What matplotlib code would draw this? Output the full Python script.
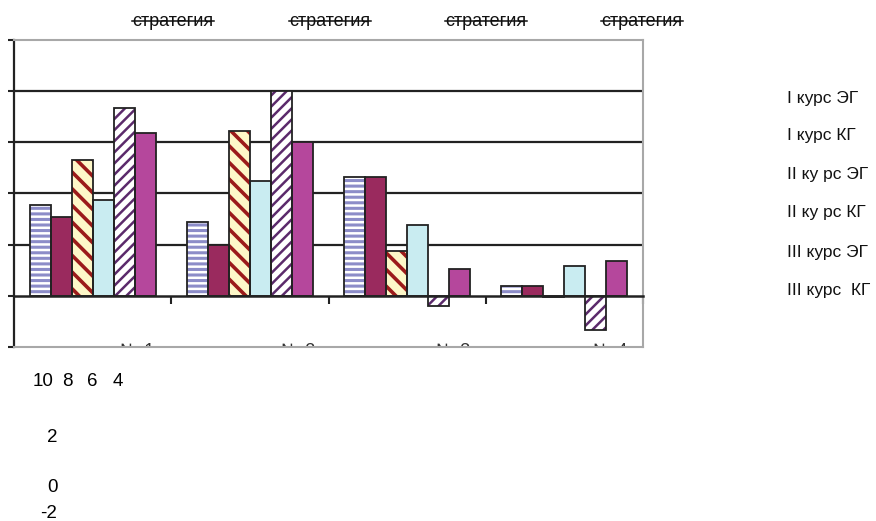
import numpy as np
import matplotlib
matplotlib.use('Agg')
import matplotlib.pyplot as plt
from matplotlib.transforms import Bbox

plt.rcParams['font.family'] = ['Liberation Sans', 'DejaVu Sans']

# data
groups = ['№ 1', '№ 2', '№ 3', '№ 4']
series = ['I курс ЭГ', 'I курс КГ', 'II ку рс ЭГ', 'II ку рс КГ', 'III курс ЭГ', 'III курс  КГ']
values = [
    [3.55, 2.90, 4.65, 0.38],    # I курс ЭГ
    [3.10, 2.00, 4.65, 0.38],    # I курс КГ
    [5.30, 6.45, 1.75, -0.05],   # II курс ЭГ
    [3.75, 4.50, 2.75, 1.17],    # II курс КГ
    [7.35, 8.00, -0.38, -1.35],  # III курс ЭГ
    [6.35, 6.00, 1.05, 1.38],    # III курс КГ
]
top_labels = ['стратегия', 'стратегия', 'стратегия', 'стратегия']
stray_ticks = ['10', '8', '6', '4']

# bar styles: face colour, hatch, hatch colour, hatch line width
styles = [
    ('white', '---', '#8c8cc8', 2.2),
    ('#9a2a5e', None, '#9a2a5e', 1.0),
    ('#fdf7c8', '\\\\', '#9b1a1a', 2.6),
    ('#c9ecf1', None, '#c9ecf1', 1.0),
    ('white', '///', '#5b2a6b', 1.8),
    ('#b5479c', None, '#b5479c', 1.0),
]

W, H = 876, 521
fig = plt.figure(figsize=(W / 100, H / 100), dpi=100)
ax = fig.add_axes([14 / W, (H - 347) / H, 629 / W, 307 / H])

x = np.arange(len(groups))
w = 1 / 7.5
for i, (vals, st) in enumerate(zip(values, styles)):
    face, hatch, hcol, hlw = st
    pos = x + (i - 2.5) * w
    with plt.rc_context({'hatch.linewidth': hlw}):
        bars = ax.bar(pos, vals, w, color=face, edgecolor=hcol, hatch=hatch,
                      linewidth=0, zorder=2)
        for b in bars:
            if hasattr(b, 'set_hatch_linewidth'):
                b.set_hatch_linewidth(hlw)
    ax.bar(pos, vals, w, fill=False, edgecolor='#222222', linewidth=1.3, zorder=3)

ax.set_xlim(-0.5, 3.5)
ax.set_ylim(-2, 10)
for yv in [2, 4, 6, 8]:
    ax.axhline(yv, color='#222222', lw=1.6, zorder=1)

ax.set_yticks(np.arange(-2, 11, 2))
ax.set_yticklabels([])
ax.tick_params(axis='y', direction='out', length=4, width=1.5, color='#222222')
ax.set_xticks([0.5, 1.5, 2.5, 3.5])
ax.set_xticklabels([])
ax.tick_params(axis='x', direction='out', length=6, width=1.5, color='#222222')

ax.spines['left'].set_color('#222222')
ax.spines['left'].set_linewidth(1.6)
ax.spines['bottom'].set_position(('data', 0))
ax.spines['bottom'].set_color('#222222')
ax.spines['bottom'].set_linewidth(1.8)
ax.spines['bottom'].set_zorder(4)
for s in ['top', 'right']:
    ax.spines[s].set_color('#a8a8a8')
    ax.spines[s].set_linewidth(1.5)
ax.plot([-0.5, 3.5], [-2, -2], color='#a8a8a8', lw=1.5, clip_on=False, zorder=5)

# category labels, mostly hidden under the plot border
for cx, lab in zip([137, 298, 453, 610], groups):
    t = fig.text(cx / W, 1 - 343 / H, lab, ha='center', va='top', fontsize=13,
                 color='#333333')
    t.set_clip_box(Bbox.from_extents(0, H - 346, W, H))
    t.set_clip_on(True)

# struck-through labels on top
fig.canvas.draw()
r = fig.canvas.get_renderer()
for cx, lab in zip([173, 330, 486, 642], top_labels):
    t = fig.text(cx / W, 1 - 22 / H, lab, ha='center', va='center', fontsize=13,
                 color='#111111')
    bb = t.get_window_extent(renderer=r)
    fig.add_artist(plt.Line2D([bb.x0 / W, bb.x1 / W], [1 - 21 / H, 1 - 21 / H],
                              color='#111111', lw=1.1, transform=fig.transFigure))

# legend entries (text only)
for yy, lab in zip([98, 136, 175, 213, 252, 290], series):
    fig.text(787 / W, 1 - yy / H, lab, ha='left', va='center', fontsize=12.5,
             color='#111111')

# stray axis labels under the chart
for cx, lab in zip([43, 67.5, 92.5, 117.5], stray_ticks):
    fig.text(cx / W, 1 - 382 / H, lab, ha='center', va='center', fontsize=13.5)
fig.text(52 / W, 1 - 437 / H, '2', ha='center', va='center', fontsize=13.5)
fig.text(52 / W, 1 - 487 / H, '0', ha='center', va='center', fontsize=13.5)
fig.text(49 / W, 1 - 513 / H, '-2', ha='center', va='center', fontsize=13.5)

fig.savefig('out.png', dpi=100)
